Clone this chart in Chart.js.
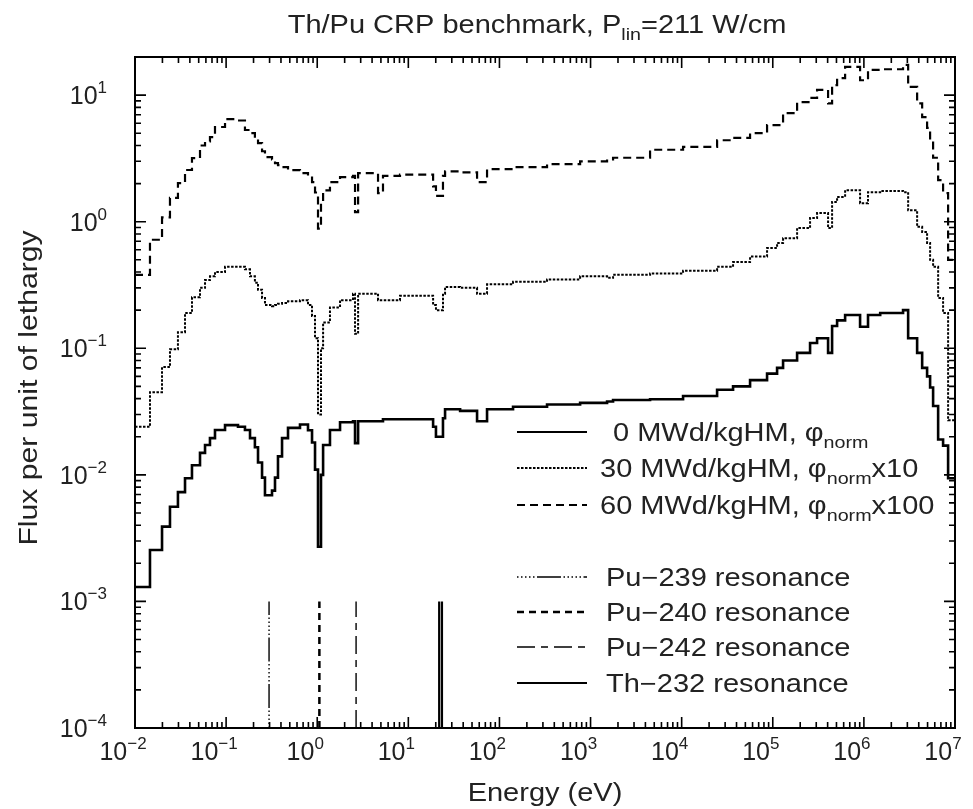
<!DOCTYPE html>
<html>
<head>
<meta charset="utf-8">
<script src="https://cdn.jsdelivr.net/npm/chart.js@4.4.1/dist/chart.umd.min.js"></script>
<style>
  html, body { margin: 0; padding: 0; background: #fff; }
  #wrap { position: relative; width: 973px; height: 809px; }
</style>
</head>
<body>
<div id="wrap"><canvas id="fluxChart" width="973" height="809"></canvas></div>
<script>
// group boundaries in eV (81 edges -> 80 groups)
const energies = [
  0.01, 0.0146, 0.0198, 0.0242, 0.0296, 0.0354, 0.0422, 0.0517, 0.0587, 0.0665,
  0.0755, 0.0973, 0.135, 0.161, 0.183, 0.207, 0.224, 0.248, 0.267, 0.319,
  0.344, 0.371, 0.411, 0.478, 0.647, 0.792, 0.877, 0.946, 1.02, 1.10,
  1.16, 1.38, 1.78, 2.47, 2.60, 2.81, 4.65, 5.27, 8.1, 18.7,
  20.1, 24.0, 25.3, 37.0, 56.8, 73.1, 141, 333, 768, 1518,
  1766, 4500, 1.036e4, 2.448e4, 3.665e4, 5.633e4, 8.656e4, 1.115e5, 1.297e5, 1.849e5,
  2.566e5, 3.063e5, 4.045e5, 4.477e5, 5.081e5, 6.222e5, 9.081e5, 1.11e6, 1.51e6, 2.69e6,
  3.06e6, 3.84e6, 4.36e6, 4.94e6, 5.33e6, 5.75e6, 6.53e6, 7.40e6, 8.40e6, 9.29e6, 1e7
];

// 0 MWd/kgHM, phi_norm
const flux0 = [
  1.3e-3, 2.55e-3, 3.9e-3, 5.6e-3, 7.3e-3, 9.4e-3, 0.0119, 0.0149, 0.0172, 0.0195,
  0.0226, 0.0247, 0.0240, 0.0226, 0.0195, 0.0165, 0.0125, 0.0095, 0.0069, 0.0075,
  0.0095, 0.014, 0.0195, 0.0235, 0.025, 0.0225, 0.018, 0.011, 0.0027, 0.010,
  0.0172, 0.0226, 0.026, 0.0265, 0.0178, 0.0265, 0.0265, 0.0275, 0.0275, 0.024,
  0.020, 0.028, 0.033, 0.032, 0.0265, 0.033, 0.0345, 0.036, 0.037, 0.038,
  0.039, 0.0395, 0.042, 0.047, 0.050, 0.056, 0.063, 0.070, 0.080, 0.092,
  0.11, 0.12, 0.092, 0.15, 0.166, 0.183, 0.148, 0.183, 0.19, 0.20,
  0.12, 0.092, 0.070, 0.060, 0.049, 0.035, 0.019, 0.017, 0.0094, 0.0094
];

// 30 MWd/kgHM, phi_norm x10
const flux30 = [
  0.024, 0.045, 0.071, 0.098, 0.134, 0.19, 0.253, 0.30, 0.346, 0.37,
  0.40, 0.44, 0.44, 0.42, 0.37, 0.33, 0.29, 0.25, 0.22, 0.215,
  0.22, 0.225, 0.228, 0.235, 0.24, 0.22, 0.18, 0.12, 0.03, 0.10,
  0.16, 0.21, 0.24, 0.27, 0.13, 0.27, 0.24, 0.24, 0.26, 0.22,
  0.20, 0.27, 0.305, 0.30, 0.27, 0.32, 0.335, 0.35, 0.37, 0.36,
  0.38, 0.39, 0.41, 0.44, 0.48, 0.53, 0.62, 0.68, 0.74, 0.89,
  1.07, 1.17, 0.89, 1.43, 1.57, 1.77, 1.40, 1.71, 1.75, 1.71,
  1.23, 0.91, 0.83, 0.68, 0.50, 0.44, 0.25, 0.19, 0.027, 0.027
];

// 60 MWd/kgHM, phi_norm x100
const flux60 = [
  0.38, 0.72, 1.08, 1.54, 2.02, 2.56, 3.18, 4.0, 4.3, 4.66,
  5.6, 6.45, 6.3, 5.3, 5.0, 4.6, 4.17, 3.6, 3.24, 3.1,
  2.9, 2.8, 2.7, 2.55, 2.42, 2.3, 2.05, 1.7, 0.88, 1.4,
  1.77, 2.05, 2.25, 2.3, 1.19, 2.42, 1.68, 2.3, 2.35, 1.9,
  1.6, 2.3, 2.5, 2.45, 2.05, 2.6, 2.7, 2.85, 3.0, 3.1,
  3.2, 3.7, 3.9, 4.4, 4.6, 5.0, 5.8, 5.8, 7.2, 8.8,
  9.5, 11, 8.6, 12, 13.6, 16.7, 13.1, 15.8, 16.0, 17.3,
  11.6, 8.6, 6.7, 5.5, 4.4, 3.2, 2.13, 1.68, 0.5, 0.5
];

const seriesLabels = ['0 MWd/kgHM, φ', '30 MWd/kgHM, φ', '60 MWd/kgHM, φ'];
const seriesScale = ['', 'x10', 'x100'];

const resonanceNames = ['Pu−239 resonance', 'Pu−240 resonance', 'Pu−242 resonance', 'Th−232 resonance'];
const resonanceEnergies = [[0.296], [1.056], [2.67], [21.8, 23.4]];
const resonanceSpan = [1e-4, 1e-3];

const xTickExps = [-2, -1, 0, 1, 2, 3, 4, 5, 6, 7];
const yTickExps = [-4, -3, -2, -1, 0, 1];

const FONT = "'Liberation Sans', Arial, sans-serif";
const TEXT_STRETCH = 1.16; // the reference lettering is wider than Helvetica metrics

function stepPoints(values) {
  const pts = values.map((v, i) => ({ x: energies[i], y: v }));
  pts.push({ x: energies[energies.length - 1], y: values[values.length - 1] });
  return pts;
}

function resonancePoints(list) {
  const pts = [];
  list.forEach(e => {
    pts.push({ x: e, y: resonanceSpan[0] }, { x: e, y: resonanceSpan[1] }, { x: e, y: null });
  });
  return pts;
}

const seriesStyles = [
  { borderWidth: 2.6, borderDash: [] },
  { borderWidth: 2, borderDash: [2.5, 1.5] },
  { borderWidth: 2.2, borderDash: [8, 5] }
];
const resonanceStyles = [
  { borderWidth: 1.4, borderDash: [1.5, 2.5, 1.5, 2.5, 1.5, 2.5, 1.5, 2.5, 1.5, 2.5, 24, 2.5] },
  { borderWidth: 2.5, borderDash: [7, 5] },
  { borderWidth: 1.4, borderDash: [18, 6, 7, 6] },
  { borderWidth: 2.2, borderDash: [] }
];

const datasets = [];
[flux0, flux30, flux60].forEach((vals, i) => {
  datasets.push({
    label: seriesLabels[i],
    data: stepPoints(vals),
    stepped: true,
    borderColor: '#000',
    borderWidth: seriesStyles[i].borderWidth,
    borderDash: seriesStyles[i].borderDash,
    pointRadius: 0,
    fill: false
  });
});
resonanceEnergies.forEach((list, i) => {
  datasets.push({
    label: resonanceNames[i],
    data: resonancePoints(list),
    borderColor: '#000',
    borderWidth: resonanceStyles[i].borderWidth,
    borderDash: resonanceStyles[i].borderDash,
    pointRadius: 0,
    spanGaps: false,
    fill: false
  });
});

// draw text made of runs: [text, size, dy], stretched horizontally by sx
function drawRuns(ctx, runs, x, y, align, sx) {
  sx = sx || 1;
  let total = 0;
  runs.forEach(r => { ctx.font = r[1] + 'px ' + FONT; r.w = ctx.measureText(r[0]).width; total += r.w; });
  const start = align === 'center' ? x - total * sx / 2 : (align === 'right' ? x - total * sx : x);
  ctx.save();
  ctx.translate(start, y);
  ctx.scale(sx, 1);
  ctx.textAlign = 'left';
  let cx = 0;
  runs.forEach(r => {
    ctx.font = r[1] + 'px ' + FONT;
    ctx.fillText(r[0], cx, r[2] || 0);
    cx += r.w;
  });
  ctx.restore();
  return total * sx;
}

function expText(e) {
  return e < 0 ? '−' + Math.abs(e) : String(e);
}

const framePlugin = {
  id: 'framePlugin',
  afterDraw(chart) {
    const { ctx, chartArea: a, scales: { x, y } } = chart;
    ctx.save();
    ctx.fillStyle = '#000';
    ctx.strokeStyle = '#000';
    ctx.textBaseline = 'alphabetic';

    // frame
    ctx.lineWidth = 2;
    ctx.setLineDash([]);
    ctx.strokeRect(a.left, a.top, a.right - a.left, a.bottom - a.top);

    // ticks (inward, all four sides)
    ctx.lineWidth = 1.6;
    ctx.beginPath();
    xTickExps.forEach(e => {
      for (let k = 1; k <= 9; k++) {
        if (e === xTickExps[xTickExps.length - 1] && k > 1) break;
        const px = x.getPixelForValue(k * Math.pow(10, e));
        const len = k === 1 ? 11 : 6;
        ctx.moveTo(px, a.bottom); ctx.lineTo(px, a.bottom - len);
        ctx.moveTo(px, a.top); ctx.lineTo(px, a.top + len);
      }
    });
    yTickExps.forEach(e => {
      for (let k = 1; k <= 9; k++) {
        const v = k * Math.pow(10, e);
        if (v > y.max) break;
        const py = y.getPixelForValue(v);
        const len = k === 1 ? 11 : 6;
        ctx.moveTo(a.left, py); ctx.lineTo(a.left + len, py);
        ctx.moveTo(a.right, py); ctx.lineTo(a.right - len, py);
      }
    });
    ctx.stroke();

    // tick labels
    ctx.fillStyle = '#222';
    xTickExps.forEach(e => {
      const px = x.getPixelForValue(Math.pow(10, e));
      drawRuns(ctx, [['10', 25, 0], [expText(e), 17, -11]], px - 12, 760, 'center');
    });
    yTickExps.forEach(e => {
      const py = y.getPixelForValue(Math.pow(10, e));
      drawRuns(ctx, [['10', 25, 0], [expText(e), 17, -11]], 107, py + 9, 'right');
    });

    // axis titles
    drawRuns(ctx, [['Energy (eV)', 25, 0]], (a.left + a.right) / 2, 801, 'center', TEXT_STRETCH);
    ctx.save();
    ctx.translate(37, 388);
    ctx.rotate(-Math.PI / 2);
    drawRuns(ctx, [['Flux per unit of lethargy', 26, 0]], 0, 0, 'center', TEXT_STRETCH);
    ctx.restore();

    // title
    drawRuns(ctx, [['Th/Pu CRP benchmark, P', 25, 0], ['lin', 17, 7], ['=211 W/cm', 25, 0]], 537, 33, 'center', TEXT_STRETCH);

    // legend
    const sx0 = 517, sx1 = 587;
    const rowY = [432, 468, 505, 577, 612, 647, 683];
    const textX = [613, 600, 600, 606, 606, 606, 606];
    const styles = seriesStyles.concat(resonanceStyles);
    rowY.forEach((ry, i) => {
      ctx.lineWidth = i === 6 ? 2 : (i < 3 ? Math.min(styles[i].borderWidth, 2) : styles[i].borderWidth);
      ctx.setLineDash(styles[i].borderDash);
      ctx.beginPath();
      ctx.moveTo(sx0, ry); ctx.lineTo(sx1, ry);
      ctx.stroke();
      ctx.setLineDash([]);
      if (i < 3) {
        const runs = [[seriesLabels[i], 25, 0], ['norm', 17, 7]];
        if (seriesScale[i]) runs.push([seriesScale[i], 25, 0]);
        drawRuns(ctx, runs, textX[i], ry + 9, 'left', TEXT_STRETCH);
      } else {
        drawRuns(ctx, [[resonanceNames[i - 3], 25, 0]], textX[i], ry + 9, 'left', TEXT_STRETCH);
      }
    });
    ctx.restore();
  }
};

new Chart(document.getElementById('fluxChart'), {
  type: 'line',
  data: { datasets },
  options: {
    responsive: false,
    animation: false,
    layout: { padding: { left: 135, right: 18, top: 57, bottom: 81 } },
    plugins: { legend: { display: false }, tooltip: { enabled: false }, title: { display: false } },
    elements: { point: { radius: 0 }, line: { tension: 0 } },
    scales: {
      x: { type: 'logarithmic', min: 0.01, max: 1e7, display: false },
      y: { type: 'logarithmic', min: 1e-4, max: 20, display: false }
    }
  },
  plugins: [framePlugin]
});
</script>
</body>
</html>
